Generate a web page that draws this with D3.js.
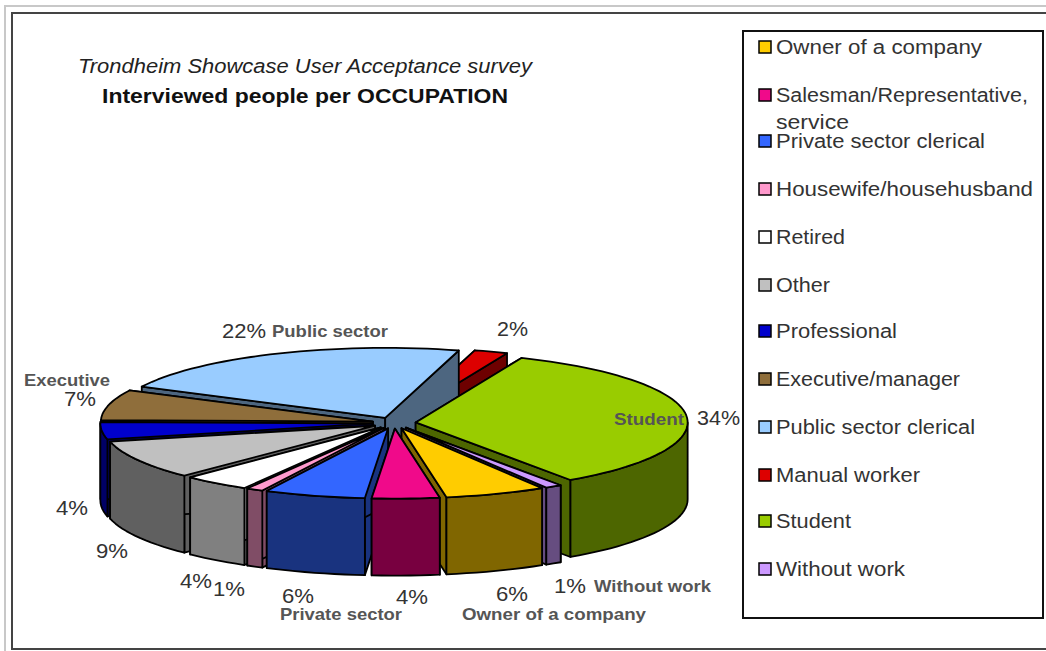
<!DOCTYPE html>
<html>
<head>
<meta charset="utf-8">
<script src="https://cdn.jsdelivr.net/npm/d3@7/dist/d3.min.js"></script>
<style>
html, body { margin: 0; padding: 0; background: #fff; overflow: hidden; }
svg { display: block; font-family: "Liberation Sans", Arial, sans-serif; }
</style>
</head>
<body>
<svg id="chart" width="1046" height="651"></svg>
<script>
// Survey occupations, in legend order (clockwise round the pie)
const occupations = ["Owner of a company", "Salesman/Representative, service", "Private sector clerical",
  "Housewife/househusband", "Retired", "Other", "Professional", "Executive/manager",
  "Public sector clerical", "Manual worker", "Student", "Without work"];
const shares = [6, 4, 6, 1, 4, 9, 4, 7, 22, 2, 34, 1];
const topColours = ["#ffcc00", "#f00a8a", "#3366ff", "#ff99cc", "#ffffff", "#c0c0c0",
  "#0000cc", "#8f6e3b", "#99ccff", "#dd0000", "#99cc00", "#cc99ff"];
const wallColours = ["#806600", "#780040", "#19337f", "#804d66", "#808080", "#606060",
  "#000066", "#47371d", "#4d6680", "#6e0000", "#4d6600", "#664d80"];
const legendRows = [47, 95, 141, 189, 237, 285, 331, 379, 427, 475, 521, 569];

// Slice captions: [text, left, baseline, width]
const percentLabels = [
  ["22%", 222, 338, 44], ["2%", 497, 336, 31], ["34%", 697, 425, 43], ["7%", 64, 406, 32],
  ["4%", 56, 515, 32], ["9%", 96, 558, 32], ["4%", 180, 588, 32], ["1%", 213, 596, 32],
  ["6%", 282, 603, 32], ["4%", 396, 604, 32], ["6%", 496, 601, 32], ["1%", 554, 593, 32]
];
const nameLabels = [
  ["Public sector", 272, 337, 116], ["Executive", 24, 386, 86], ["Student", 614, 425, 70],
  ["Without work", 594, 592, 117], ["Private sector", 280, 620, 122], ["Owner of a company", 462, 620, 184]
];

const svg = d3.select("#chart");

// Window frame
svg.append("path").attr("d", "M5,651V6H1046").attr("fill", "none").attr("stroke", "#c8c8c8").attr("stroke-width", 2);
svg.append("path").attr("d", "M1046,13H12V649H1046").attr("fill", "none").attr("stroke", "#444").attr("stroke-width", 2);

// Pie projection: unit circle to a flattened ellipse
const rimX = d3.scaleLinear().domain([-1, 1]).range([122, 666]);
const rimY = d3.scaleLinear().domain([1, -1]).range([353, 493]);
const depth = 77;
const explode = 0.08;
const startDegrees = 148.9;

const pie = d3.pie().sort(null)
  .startAngle(startDegrees * Math.PI / 180)
  .endAngle((startDegrees + 360) * Math.PI / 180);
const arcs = pie(shares).map((a, i) => ({ ...a, i, mid: (a.startAngle + a.endAngle) / 2 }));

const line = d3.line().x(p => p[0]).y(p => p[1]);

function rimPoint(d, angle, radius, drop) {
  const ux = Math.sin(angle) * radius + Math.sin(d.mid) * explode;
  const uy = Math.cos(angle) * radius + Math.cos(d.mid) * explode;
  return [rimX(ux), rimY(uy) + drop];
}

function arcPoints(d, from, to, drop) {
  const steps = Math.max(2, Math.ceil((to - from) / 0.04));
  return d3.range(steps + 1).map(k => rimPoint(d, from + (to - from) * k / steps, 1, drop));
}

// Part of a slice's rim that faces the viewer (between 90 and 270 degrees from the top)
function frontSpans(d) {
  const spans = [];
  for (const shift of [0, 2 * Math.PI]) {
    const lo = Math.max(d.startAngle, Math.PI / 2 + shift);
    const hi = Math.min(d.endAngle, 1.5 * Math.PI + shift);
    if (hi > lo) spans.push([lo, hi]);
  }
  return spans;
}

const drawOrder = arcs.slice().sort((a, b) => Math.cos(b.mid) - Math.cos(a.mid));
const pieLayer = svg.append("g").attr("stroke", "#000").attr("stroke-width", 1.8).attr("stroke-linejoin", "round");

drawOrder.forEach(d => {
  const g = pieLayer.append("g");
  const wall = wallColours[d.i];
  // Cut faces running in to the apex
  [d.startAngle, d.endAngle].forEach(angle => {
    const pts = [rimPoint(d, angle, 0, 0), rimPoint(d, angle, 1, 0), rimPoint(d, angle, 1, depth), rimPoint(d, angle, 0, depth)];
    g.append("path").attr("d", line(pts) + "Z").attr("fill", wall);
  });
  // Outer curved face
  frontSpans(d).forEach(([lo, hi]) => {
    const pts = arcPoints(d, lo, hi, 0).concat(arcPoints(d, lo, hi, depth).reverse());
    g.append("path").attr("d", line(pts) + "Z").attr("fill", wall);
  });
  // Top face
  const top = [rimPoint(d, d.startAngle, 0, 0)].concat(arcPoints(d, d.startAngle, d.endAngle, 0));
  g.append("path").attr("d", line(top) + "Z").attr("fill", topColours[d.i]);
});

// Fit text to a measured run width
function fitted(sel, width) {
  return sel.attr("textLength", width).attr("lengthAdjust", "spacingAndGlyphs");
}

// Title
fitted(svg.append("text").attr("x", 78).attr("y", 73).attr("font-size", 20).attr("font-style", "italic").attr("fill", "#222")
  .text("Trondheim Showcase User Acceptance survey"), 454);
fitted(svg.append("text").attr("x", 102).attr("y", 103).attr("font-size", 20).attr("font-weight", "bold").attr("fill", "#111")
  .text("Interviewed people per OCCUPATION"), 406);

// Captions round the pie
percentLabels.forEach(([t, x, y, w]) => {
  fitted(svg.append("text").attr("x", x).attr("y", y).attr("font-size", 20).attr("fill", "#333").text(t), w);
});
nameLabels.forEach(([t, x, y, w]) => {
  fitted(svg.append("text").attr("x", x).attr("y", y).attr("font-size", 17).attr("font-weight", "bold").attr("fill", "#555").text(t), w);
});

// Legend
svg.append("rect").attr("x", 743).attr("y", 31).attr("width", 300).attr("height", 587)
  .attr("fill", "#fff").attr("stroke", "#111").attr("stroke-width", 2);
const legendWidths = [206, 252, 209, 257, 69, 54, 121, 184, 199, 144, 75, 129];
occupations.forEach((name, i) => {
  const y = legendRows[i];
  svg.append("rect").attr("x", 759).attr("y", y - 6).attr("width", 12).attr("height", 12)
    .attr("fill", topColours[i]).attr("stroke", "#000").attr("stroke-width", 1.5);
  const parts = name === "Salesman/Representative, service" ? ["Salesman/Representative,", "service"] : [name];
  fitted(svg.append("text").attr("x", 776).attr("y", y + 7).attr("font-size", 20).attr("fill", "#333").text(parts[0]), legendWidths[i]);
  if (parts[1]) {
    fitted(svg.append("text").attr("x", 776).attr("y", y + 34).attr("font-size", 20).attr("fill", "#333").text(parts[1]), 73);
  }
});
</script>
</body>
</html>
